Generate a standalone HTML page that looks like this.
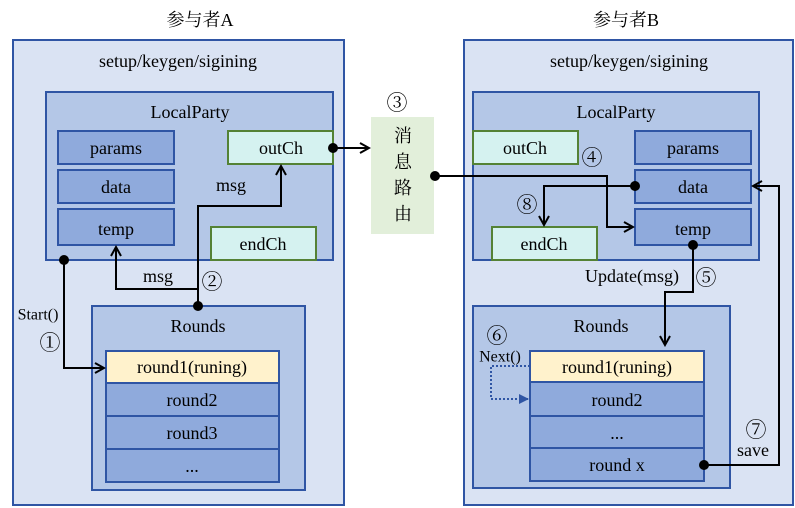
<!DOCTYPE html><html><head><meta charset="utf-8"><style>body{margin:0;background:#fff}svg{display:block}text{font-family:"Liberation Serif","Noto Serif CJK SC",serif;font-size:18px;fill:#000;text-anchor:middle;dominant-baseline:central}.c{font-size:21px}</style></head><body>
<svg width="795" height="508" viewBox="0 0 795 508">
<defs><marker id="a" markerWidth="12" markerHeight="12" refX="10" refY="6" orient="auto" markerUnits="userSpaceOnUse"><path d="M1,1 L10,6 L1,11" fill="none" stroke="#000" stroke-width="2"/></marker>
<marker id="t" markerWidth="10" markerHeight="10" refX="9" refY="5" orient="auto" markerUnits="userSpaceOnUse"><path d="M0,0 L10,5 L0,10z" fill="#2f55a4"/></marker></defs>
<g stroke="#2f55a4" stroke-width="2">
<rect x="13" y="40" width="331" height="465" fill="#dae3f3"/>
<rect x="464" y="40" width="329" height="465" fill="#dae3f3"/>
<rect x="46" y="92" width="287" height="168" fill="#b4c7e7"/>
<rect x="473" y="92" width="286" height="168" fill="#b4c7e7"/>
<rect x="92" y="306" width="213" height="184" fill="#b4c7e7"/>
<rect x="473" y="306" width="257" height="182" fill="#b4c7e7"/>
<g fill="#8faadc"><rect x="58" y="131" width="116" height="33"/><rect x="58" y="170" width="116" height="33"/><rect x="58" y="209" width="116" height="36"/>
<rect x="635" y="131" width="116" height="33"/><rect x="635" y="170" width="116" height="33"/><rect x="635" y="209" width="116" height="36"/>
<rect x="106" y="383" width="173" height="33"/><rect x="106" y="416" width="173" height="33"/><rect x="106" y="449" width="173" height="33"/>
<rect x="530" y="382" width="174" height="34"/><rect x="530" y="416" width="174" height="32"/><rect x="530" y="448" width="174" height="33"/></g>
<rect x="106" y="351" width="173" height="32" fill="#fff2cc"/><rect x="530" y="351" width="174" height="31" fill="#fff2cc"/>
</g>
<g stroke="#548235" stroke-width="2" fill="#d5f2f0"><rect x="228" y="131" width="105" height="33"/><rect x="211" y="227" width="105" height="33"/><rect x="473" y="131" width="105" height="33"/><rect x="492" y="227" width="105" height="33"/></g>
<rect x="371" y="117" width="63" height="117" fill="#e2efda"/>
<g fill="none" stroke="#000" stroke-width="2">
<path d="M64,260 V368 H104" marker-end="url(#a)"/>
<path d="M198,306 V289 H116 V247" marker-end="url(#a)"/>
<path d="M198,289 V206 H281 V166" marker-end="url(#a)"/>
<path d="M333,148 H369" marker-end="url(#a)"/>
<path d="M435,176 H607 V227 H633" marker-end="url(#a)"/>
<path d="M635,186 H544 V225" marker-end="url(#a)"/>
<path d="M693,245 V292 H665 V345" marker-end="url(#a)"/>
<path d="M704,465 H779 V186 H753" marker-end="url(#a)"/>
</g>
<path d="M530,366 H491 V399 H528" fill="none" stroke="#2f55a4" stroke-width="2" stroke-dasharray="2,2" marker-end="url(#t)"/>
<g fill="#000"><circle cx="64" cy="260" r="5"/><circle cx="198" cy="306" r="5"/><circle cx="333" cy="148" r="5"/><circle cx="435" cy="176" r="5"/><circle cx="635" cy="186" r="5"/><circle cx="693" cy="245" r="5"/><circle cx="704" cy="465" r="5"/></g>
<text x="200" y="20">参与者A</text><text x="626" y="20">参与者B</text>
<text x="178" y="61">setup/keygen/sigining</text><text x="629" y="61">setup/keygen/sigining</text>
<text x="190" y="112">LocalParty</text><text x="616" y="112">LocalParty</text>
<text x="116" y="148">params</text><text x="116" y="187">data</text><text x="116" y="229">temp</text>
<text x="693" y="148">params</text><text x="693" y="187">data</text><text x="693" y="229">temp</text>
<text x="281" y="148">outCh</text><text x="263" y="244">endCh</text><text x="525" y="148">outCh</text><text x="544" y="244">endCh</text>
<text x="198" y="326">Rounds</text><text x="601" y="326">Rounds</text>
<text x="192" y="367">round1(runing)</text><text x="192" y="400">round2</text><text x="192" y="433">round3</text><text x="192" y="466">...</text>
<text x="617" y="367">round1(runing)</text><text x="617" y="400">round2</text><text x="617" y="433">...</text><text x="617" y="465">round x</text>
<text x="158" y="276">msg</text><text x="231" y="185">msg</text>
<text x="38" y="315" style="font-size:16px">Start()</text><text class="c" x="50" y="343">①</text><text class="c" x="212" y="282">②</text><text class="c" x="397" y="103">③</text><text class="c" x="592" y="158">④</text><text class="c" x="706" y="278">⑤</text><text class="c" x="497" y="336">⑥</text><text class="c" x="756" y="430">⑦</text><text class="c" x="527" y="205">⑧</text>
<text x="632" y="276">Update(msg)</text><text x="500" y="357" style="font-size:16px">Next()</text><text x="753" y="450">save</text>
<text x="403" y="136">消</text><text x="403" y="162">息</text><text x="403" y="188">路</text><text x="403" y="214">由</text>
</svg></body></html>
